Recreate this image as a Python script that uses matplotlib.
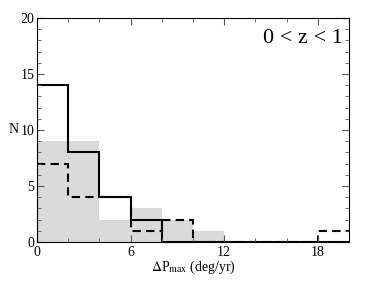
import numpy as np
import matplotlib.pyplot as plt
from matplotlib.ticker import MultipleLocator

# bins of 2 deg/yr from 0 to 20
edges = np.arange(0, 22, 2)
n_gray = [9, 9, 2, 3, 2, 1, 0, 0, 0, 0]
n_solid = [14, 8, 4, 2, 0, 0, 0, 0, 0, 0]
n_dashed = [7, 4, 4, 1, 2, 0, 0, 0, 0, 1]

plt.rcParams['font.family'] = ['Liberation Serif', 'DejaVu Serif']
plt.rcParams['mathtext.fontset'] = 'stix'

fig = plt.figure(figsize=(3.7, 2.86), dpi=100)
ax = fig.add_axes([0.1, 0.154, 0.843, 0.783])

ax.stairs(n_gray, edges, fill=True, color='#dadada', lw=0)
ax.stairs(n_solid, edges, color='black', lw=1.5, baseline=0)
ax.stairs(n_dashed, edges, color='black', lw=1.5, ls=(0, (4, 2.5)), baseline=None)

ax.set_xlim(0, 20)
ax.set_ylim(0, 20)
ax.xaxis.set_major_locator(MultipleLocator(6))
ax.xaxis.set_minor_locator(MultipleLocator(2))
ax.yaxis.set_major_locator(MultipleLocator(5))
ax.yaxis.set_minor_locator(MultipleLocator(1))
ax.tick_params(which='both', direction='in', top=True, right=True,
               labelsize=10, color='#555555')
ax.tick_params(axis='x', pad=3)
ax.tick_params(axis='y', pad=2)
ax.tick_params(which='major', length=5)
ax.tick_params(which='minor', length=3)
for s in ax.spines.values():
    s.set_linewidth(0.8)

ax.set_xlabel(r'$\Delta$P$_{\rm max}$ (deg/yr)', fontsize=10, labelpad=0)
ax.set_ylabel('N', fontsize=10, rotation=0, va='center', ha='center')
ax.yaxis.set_label_coords(-0.075, 0.5)
ax.text(0.98, 0.95, '0 < z < 1', transform=ax.transAxes, ha='right',
        va='top', fontsize=16)

fig.savefig('out.png', dpi=100)
